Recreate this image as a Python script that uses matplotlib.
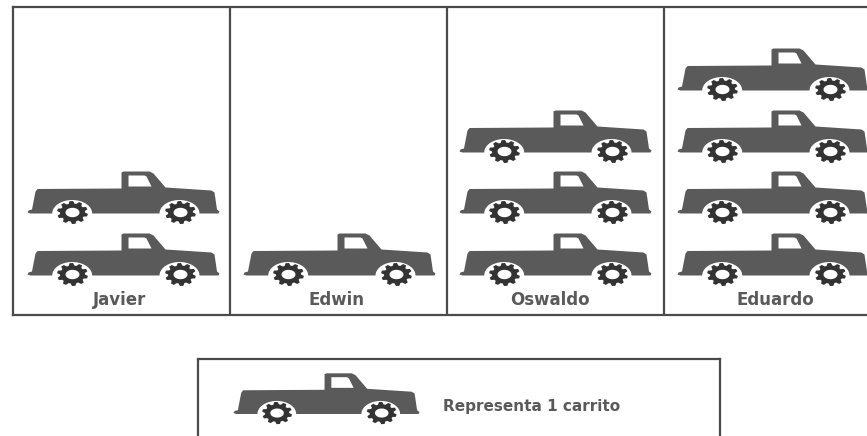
import numpy as np
import matplotlib
matplotlib.use("Agg")
import matplotlib.pyplot as plt
from matplotlib.path import Path

names = ["Javier", "Edwin", "Oswaldo", "Eduardo"]
counts = [2, 1, 3, 4]
legend_text = "Representa 1 carrito"

W, H = 867, 436
DARK = "#5a5a5a"
GEAR = "#333333"
EDGE = "#4a4a4a"
TEXT = "#5a5a5a"
CY = 26  # vertical centre of the truck template


def arc(cx, cy, rx, ry, a0, a1, n=32):
    t = np.radians(np.linspace(a0, a1, n))
    return np.column_stack([cx + rx * np.cos(t), cy + ry * np.sin(t)])


def gear(cx, cy, teeth=10, rx_out=15.5, ry_out=11.5, rx_in=12.5, ry_in=9.0):
    pts = []
    step = 360 / teeth
    for k in range(teeth):
        a = k * step
        for da, on in [(0, False), (step * .2, True), (step * .55, True), (step * .75, False)]:
            t = np.radians(a + da)
            rx, ry = (rx_out, ry_out) if on else (rx_in, ry_in)
            pts.append([cx + rx * np.cos(t), cy + ry * np.sin(t)])
    return np.array(pts)


def compound(parts):
    verts, codes = [], []
    for p in parts:
        verts.extend(p.tolist() + [p[0].tolist()])
        codes.extend([Path.MOVETO] + [Path.LINETO] * (len(p) - 1) + [Path.CLOSEPOLY])
    v = np.array(verts, float)
    v[:, 0] -= 96
    v[:, 1] = CY - v[:, 1]
    return Path(v, codes)


def truck_paths():
    # template in pixels: x right, y down, origin at truck top-left
    body = np.vstack([
        [[94, 1], [96, 0], [122, 0], [126, 2], [138, 16], [184, 19], [187, 21],
         [189.5, 38], [192, 40], [191, 42], [172, 42]],
        arc(152, 42, 20, 13.5, 0, -180),
        [[64.7, 42]],
        arc(44.7, 42, 20, 13.5, 0, -180),
        [[3, 42], [0, 41], [1, 39], [4.5, 38], [8, 20], [10, 17.5], [94, 17]],
    ])
    window = np.array([[101, 4], [101, 15], [124, 15], [119, 5], [117, 4]])
    wheels = [gear(45, 41), arc(45, 41, 7, 4.7, 360, 0),
              gear(153, 41), arc(153, 41, 7, 4.7, 360, 0)]
    return compound([body, window]), compound(wheels)


BODY, WHEELS = truck_paths()


def size_for(path, scale=1.0):
    half = np.abs(path.vertices).max() * scale
    return (2 * half * 72 / 100) ** 2


def draw_truck(axis, xs, ys, scale=1.0):
    axis.scatter(xs, ys, marker=BODY, s=size_for(BODY, scale), color=DARK,
                 linewidths=0, clip_on=False, zorder=3)
    axis.scatter(xs, ys, marker=WHEELS, s=size_for(WHEELS, scale), color=GEAR,
                 linewidths=0, clip_on=False, zorder=3)


fig = plt.figure(figsize=(W / 100, H / 100), dpi=100, facecolor="white")

# Panels: 12..881 px wide, 7..315 px tall
ax = fig.add_axes([12.5 / W, (H - 315) / H, 869 / W, 308 / H])
ax.set_xlim(-0.5, 3.5)
row_px = 61.5
ax.set_ylim(1 - (315 - 259) / row_px, 1 + (259 - 7) / row_px)
ax.set_xticks([])
ax.set_yticks([])
for s in ax.spines.values():
    s.set_color(EDGE)
    s.set_linewidth(1.6)
for b in np.arange(0.5, 3.5):
    ax.axvline(b, color=EDGE, lw=1.6)

nudge = [0.007, 0.005, -0.004, 0.0]
label_nudge = [-0.008, -0.007, -0.028, 0.012]
for i, (name, c) in enumerate(zip(names, counts)):
    draw_truck(ax, [i + nudge[i]] * c, np.arange(1, c + 1))
    ax.text(i + label_nudge[i], 1 - 41 / row_px, name, ha="center", va="center",
            fontsize=12, fontweight="bold", color=TEXT, family="DejaVu Sans")

# Legend box, running off the bottom of the figure
lg = fig.add_axes([198 / W, 0, 522 / W, 77 / H])
lg.set_xlim(0, 1)
lg.set_ylim(0, 1)
lg.set_xticks([])
lg.set_yticks([])
lg.spines["bottom"].set_visible(False)
for k in ("top", "left", "right"):
    lg.spines[k].set_color(EDGE)
    lg.spines[k].set_linewidth(1.6)
draw_truck(lg, [0.245], [0.49], scale=186 / 192)
lg.text(0.469, 0.38, legend_text, ha="left", va="center", fontsize=11,
        fontweight="bold", color=TEXT, family="DejaVu Sans")

fig.savefig("out.png", dpi=100)
